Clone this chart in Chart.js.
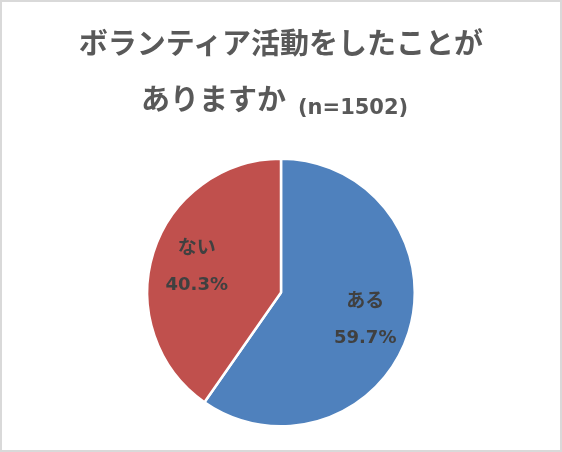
<!DOCTYPE html>
<html>
<head>
<meta charset="utf-8">
<script src="https://cdn.jsdelivr.net/npm/chart.js@4"></script>
<style>
  html, body { margin: 0; padding: 0; background: #fff; }
  #wrap { position: relative; width: 562px; height: 452px; overflow: hidden; }
  #frame { position: absolute; left: 0; top: 0; width: 562px; height: 452px; box-sizing: border-box; border: 2px solid #d9d9d9; pointer-events: none; }
  .t { position: absolute; color: #595959; font-weight: bold; white-space: nowrap; }
  #t1 { left: 0; width: 562px; text-align: center; top: 21px; font-family: "Noto Sans CJK JP", sans-serif; font-size: 29px; line-height: 40px; }
  #t2a { left: 141px; top: 77px; font-family: "Noto Sans CJK JP", sans-serif; font-size: 29px; line-height: 40px; }
  #t2b { left: 298px; top: 92px; font-family: "DejaVu Sans", sans-serif; font-size: 21px; line-height: 30px; }
  canvas { position: absolute; left: 0; top: 0; }
</style>
</head>
<body>
<div id="wrap">
  <canvas id="c" width="562" height="452"></canvas>
  <div class="t" id="t1">ボランティア活動をしたことが</div>
  <div class="t" id="t2a">ありますか</div>
  <div class="t" id="t2b">(n=1502)</div>
  <div id="frame"></div>
</div>
<script>
const categories = ["ある", "ない"];
const values = [59.7, 40.3];
const percentLabels = ["59.7%", "40.3%"];
const colors = ["#4f81bd", "#c0504d"];

const labelPlugin = {
  id: "sliceLabels",
  afterDatasetsDraw(chart) {
    const ctx = chart.ctx;
    const meta = chart.getDatasetMeta(0);
    ctx.save();
    ctx.fillStyle = "#404040";
    ctx.textAlign = "center";
    ctx.textBaseline = "middle";
    meta.data.forEach((arc, i) => {
      const p = arc.getProps(["x", "y", "startAngle", "endAngle", "outerRadius"], true);
      const mid = (p.startAngle + p.endAngle) / 2;
      const r = p.outerRadius * 0.66;
      const cx = p.x + Math.cos(mid) * r;
      const cy = p.y + Math.sin(mid) * r;
      ctx.font = "bold 19px 'Noto Sans CJK JP', sans-serif";
      ctx.fillText(chart.data.labels[i], cx, cy - 19);
      ctx.font = "bold 18px 'DejaVu Sans', sans-serif";
      ctx.fillText(percentLabels[i], cx, cy + 19);
    });
    ctx.restore();
  }
};

new Chart(document.getElementById("c"), {
  type: "pie",
  data: {
    labels: categories,
    datasets: [{
      data: values,
      backgroundColor: colors,
      borderColor: "#ffffff",
      borderWidth: 2.5
    }]
  },
  options: {
    responsive: false,
    animation: false,
    devicePixelRatio: 1,
    layout: { padding: { left: 146, right: 146, top: 157, bottom: 24 } },
    plugins: {
      legend: { display: false },
      title: { display: false },
      tooltip: { enabled: false }
    }
  },
  plugins: [labelPlugin]
});
</script>
</body>
</html>
